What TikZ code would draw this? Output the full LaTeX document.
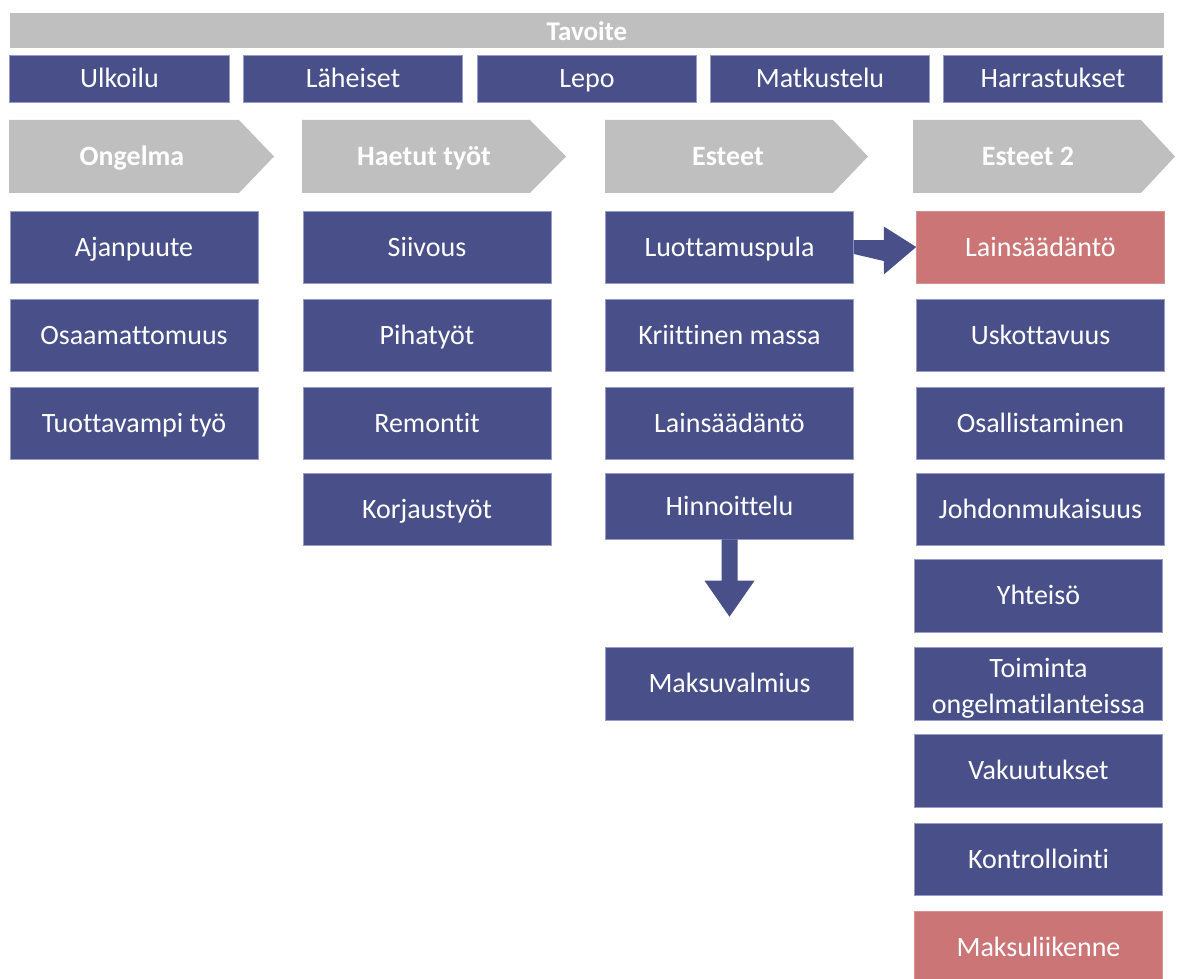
\documentclass[tikz,border=0pt]{standalone}
\usepackage{fontspec}
\setmainfont{Carlito}[Ligatures={NoCommon}]
\usetikzlibrary{calc}
\definecolor{boxblue}{RGB}{73,80,137}
\definecolor{boxred}{RGB}{203,117,119}
\definecolor{barg}{RGB}{191,191,191}
\definecolor{edgeb}{RGB}{150,156,200}
\begin{document}
\begin{tikzpicture}[x=1pt,y=-1pt,
  base/.style={inner sep=0pt, text=white, align=center, font=\fontsize{28}{36}\selectfont},
  capc/.style={text height=18pt, text depth=0pt},
  bboxm/.style={base, fill=boxblue, draw=edgeb, line width=0.6pt, minimum width=248pt, minimum height=72pt},
  bbox/.style={bboxm, capc},
  rbox/.style={bbox, fill=boxred, draw=boxred!80!white},
  tbox/.style={bbox, minimum width=219.5pt, minimum height=47pt},
  chev/.style={fill=barg},
  chevtext/.style={base, capc, font=\fontsize{28}{34}\selectfont\bfseries},
  blockarrow/.style={fill=boxblue}
]
\useasboundingbox (0,0) rectangle (1184,979);

% goal bar
\fill[barg] (10,13) rectangle (1164,48);
\node[base, capc, text height=17pt, font=\fontsize{27}{30}\selectfont\bfseries] (tavoite) at (587,32) {Tavoite};

% top row
\node[tbox] (ulk) at (119.5,78.5) {Ulkoilu};
\node[tbox] (lah) at (353,78.5) {Läheiset};
\node[tbox] (lepo) at (587,78.5) {Lepo};
\node[tbox] (matk) at (820,78.5) {Matkustelu};
\node[tbox] (harr) at (1053,78.5) {Harrastukset};

% chevrons
\fill[chev] (9,120) -- (239,120) -- (274,156.5) -- (239,193) -- (9,193) -- cycle;
\fill[chev] (302,120) -- (530,120) -- (566,156.5) -- (530,193) -- (302,193) -- cycle;
\fill[chev] (605,120) -- (833,120) -- (868,156.5) -- (833,193) -- (605,193) -- cycle;
\fill[chev] (913,120) -- (1141,120) -- (1175,156.5) -- (1141,193) -- (913,193) -- cycle;
\node[chevtext] (ong) at (132,157) {Ongelma};
\node[chevtext] (haet) at (424,157) {Haetut työt};
\node[chevtext] (est) at (728,157) {Esteet};
\node[chevtext] (est2) at (1028,157) {Esteet 2};

% column 1
\node[bbox] (ajan) at (134,247) {Ajanpuute};
\node[bbox] (osaam) at (134,335) {Osaamattomuus};
\node[bbox] (tuott) at (134,423) {Tuottavampi työ};

% column 2
\node[bbox] (siiv) at (427,247) {Siivous};
\node[bbox] (piha) at (427,335) {Pihatyöt};
\node[bbox] (remo) at (427,423) {Remontit};
\node[bbox] (korj) at (427,509) {Korjaustyöt};

% column 3
\node[bbox] (luot) at (729.5,247) {Luottamuspula};
\node[bbox] (kriit) at (729.5,335) {Kriittinen massa};
\node[bbox] (lain) at (729.5,423) {Lainsäädäntö};
\node[bbox, minimum height=66pt] (hinn) at (729.5,506) {Hinnoittelu};
\node[bbox, minimum height=73pt] (maks) at (729.5,683.5) {Maksuvalmius};

% column 4
\node[rbox] (lainR) at (1040.5,247) {Lainsäädäntö};
\node[bbox] (usk) at (1040.5,335) {Uskottavuus};
\node[bbox] (osal) at (1040.5,423) {Osallistaminen};
\node[bbox] (johd) at (1040.5,509) {Johdonmukaisuus};
\node[bbox, minimum height=73pt] (yht) at (1038.5,595.5) {Yhteisö};
\node[bboxm, minimum height=73pt] (toim) at (1038.5,683.5) {};
\node[base, yshift=-5pt] (toimt) at (toim.center) {Toiminta\\ongelmatilanteissa};
\node[bbox, minimum height=73pt] (vak) at (1038.5,770.5) {Vakuutukset};
\node[bbox] (kont) at (1038.5,859) {Kontrollointi};
\node[rbox] (maksl) at (1038.5,947) {Maksuliikenne};

% block arrow right: Luottamuspula -> Lainsäädäntö
\fill[blockarrow] ($(luot.east)+(0,-7)$) -- ++(30,0) -- ++(0,-13.5)
  -- (lainR.west) -- ($(luot.east)+(30,27.5)$) -- ++(0,-13.5) -- ($(luot.east)+(0,7)$) -- cycle;

% block arrow down: Hinnoittelu -> Maksuvalmius
\coordinate (dtip) at ($(maks.north)+(0,-30)$);
\fill[blockarrow] ($(hinn.south)+(-8,0)$) -- ($(hinn.south)+(8,0)$) -- ($(dtip)+(8,-36)$)
  -- ($(dtip)+(25,-36)$) -- (dtip) -- ($(dtip)+(-25,-36)$) -- ($(dtip)+(-8,-36)$) -- cycle;
\end{tikzpicture}
\end{document}
